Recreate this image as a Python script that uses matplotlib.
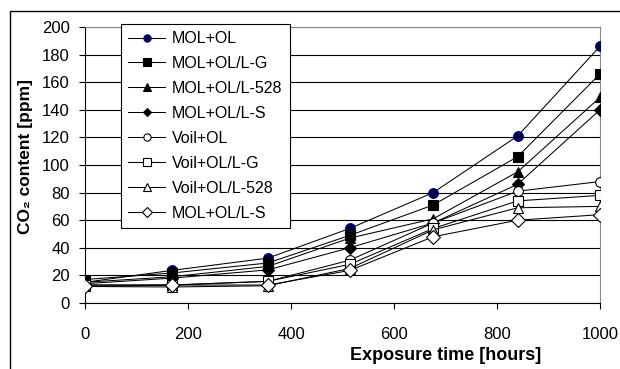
import numpy as np
import matplotlib.pyplot as plt
import matplotlib.patches as patches

plt.rcParams['font.family'] = ['Liberation Sans', 'DejaVu Sans']

# exposure times [hours]
hours = [0, 168, 355, 514, 676, 840, 1000]

# CO2 content [ppm] per sample
mol_ol = [15, 23.6, 32.5, 54, 80, 121, 186]
mol_ol_lg = [17, 21.7, 29, 49, 71, 106, 166]
mol_ol_l528 = [15, 19, 26.5, 47, 61, 95, 149]
mol_ol_ls = [14, 18, 24, 40, 58, 86, 140]
voil_ol = [13, 13, 15.7, 31, 58, 81, 88]
voil_ol_lg = [13, 13, 15.7, 28, 54, 74, 78]
voil_ol_l528 = [12, 11.6, 12.5, 25, 53, 69, 70]
mol_ol_ls_w = [12, 13, 13, 23.6, 48, 60, 64]

labels = ['MOL+OL', 'MOL+OL/L-G', 'MOL+OL/L-528', 'MOL+OL/L-S',
          'Voil+OL', 'Voil+OL/L-G', 'Voil+OL/L-528', 'MOL+OL/L-S']
series = [mol_ol, mol_ol_lg, mol_ol_l528, mol_ol_ls,
          voil_ol, voil_ol_lg, voil_ol_l528, mol_ol_ls_w]
markers = ['o', 's', '^', 'D', 'o', 's', '^', 'D']
faces = ['#000044', 'black', 'black', 'black', 'white', 'white', 'white', 'white']
edges = ['#00008b', 'black', 'black', 'black', 'black', 'black', 'black', 'black']
msizes = [7, 7, 7, 6, 7, 7, 7.5, 7]

fig = plt.figure(figsize=(6.2, 3.69), dpi=100)
ax = fig.add_axes([85/620, 1-303/369, 515/620, 276/369])

for i in range(len(series)):
    ax.plot(hours, series[i], color='black', lw=0.75, marker=markers[i],
            markersize=msizes[i], markerfacecolor=faces[i],
            markeredgecolor=edges[i], markeredgewidth=0.8, label=labels[i], zorder=3)

ax.set_xlim(0, 1000)
ax.set_ylim(0, 200)
ax.set_xticks(np.arange(0, 1001, 200))
ax.set_yticks(np.arange(0, 201, 20))
ax.yaxis.grid(True, color='black', lw=0.8)
ax.set_axisbelow(True)
ax.tick_params(axis='x', direction='out', length=4, width=0.8, pad=13, labelsize=12)
ax.tick_params(axis='y', direction='out', length=4, width=0.8, pad=7, labelsize=12)
ax.spines['right'].set_color('#888888')
ax.spines['top'].set_color('#888888')
for s in ax.spines.values():
    s.set_linewidth(0.8)

ax.set_ylabel('CO₂ content [ppm]', fontsize=12.5, fontweight='bold')
ax.yaxis.set_label_coords(-0.101, 0.53)
ax.set_xlabel('Exposure time [hours]', fontsize=13, fontweight='bold')
ax.xaxis.set_label_coords(0.70, -0.158)

leg = ax.legend(loc='upper left', bbox_to_anchor=(121/620, 1-24/369),
                bbox_transform=fig.transFigure, borderaxespad=0, fontsize=11.5,
                fancybox=False, edgecolor='black', framealpha=1,
                handlelength=2.3, handletextpad=0.45, labelspacing=0.62,
                markerscale=0.75, borderpad=0.45)
leg.get_frame().set_linewidth(0.8)
leg.set_zorder(5)

# outer chart border
fig.patches.append(patches.Rectangle((10/620, -0.2), 2, 1-11/369+0.2,
                                     transform=fig.transFigure, fill=False,
                                     lw=1, edgecolor='black'))

fig.savefig('out.png', dpi=100)
